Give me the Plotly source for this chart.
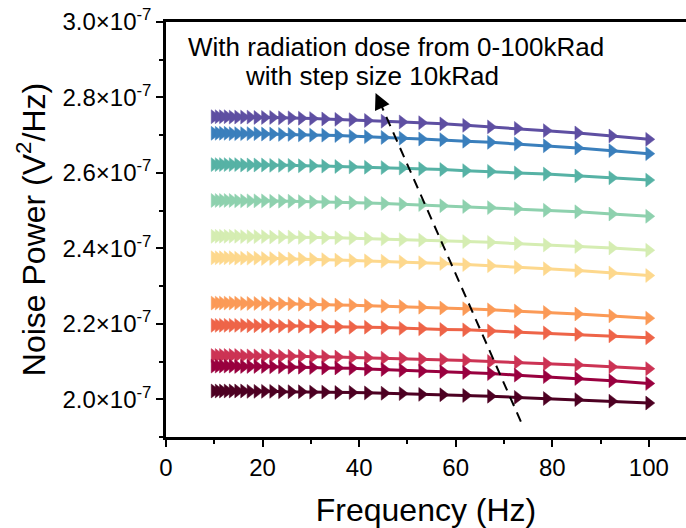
import plotly.graph_objects as go

# Frequency points (Hz)
freq = [10.00, 10.83, 11.72, 12.69, 13.74, 14.87, 16.10, 17.43, 18.87, 20.43,
        22.12, 23.95, 25.93, 28.07, 30.39, 32.90, 35.62, 38.57, 41.75, 45.20,
        48.94, 52.98, 57.36, 62.10, 67.23, 72.79, 78.80, 85.32, 92.37, 100.0]

# Noise power, in units of 1e-7 V^2/Hz (top curve first)
s1 = [2.749, 2.749, 2.749, 2.749, 2.748, 2.748, 2.748, 2.748, 2.747, 2.747,
      2.747, 2.746, 2.746, 2.745, 2.744, 2.743, 2.742, 2.741, 2.739, 2.737,
      2.735, 2.733, 2.730, 2.726, 2.722, 2.718, 2.712, 2.706, 2.698, 2.689]
s2 = [2.705, 2.705, 2.705, 2.705, 2.704, 2.704, 2.704, 2.704, 2.704, 2.703,
      2.703, 2.702, 2.702, 2.701, 2.700, 2.700, 2.699, 2.697, 2.696, 2.694,
      2.692, 2.690, 2.688, 2.684, 2.681, 2.677, 2.672, 2.666, 2.659, 2.651]
s3 = [2.622, 2.622, 2.622, 2.622, 2.622, 2.622, 2.621, 2.621, 2.621, 2.621,
      2.620, 2.620, 2.620, 2.619, 2.619, 2.618, 2.617, 2.616, 2.615, 2.614,
      2.613, 2.611, 2.609, 2.606, 2.604, 2.600, 2.597, 2.592, 2.587, 2.581]
s4 = [2.527, 2.527, 2.527, 2.527, 2.527, 2.526, 2.526, 2.526, 2.526, 2.526,
      2.525, 2.525, 2.525, 2.524, 2.523, 2.523, 2.522, 2.521, 2.520, 2.519,
      2.517, 2.516, 2.513, 2.511, 2.508, 2.505, 2.501, 2.497, 2.491, 2.485]
s5 = [2.432, 2.432, 2.432, 2.432, 2.432, 2.432, 2.431, 2.431, 2.431, 2.431,
      2.430, 2.430, 2.430, 2.429, 2.429, 2.428, 2.428, 2.427, 2.426, 2.425,
      2.423, 2.422, 2.420, 2.418, 2.416, 2.413, 2.409, 2.405, 2.401, 2.395]
s6 = [2.375, 2.375, 2.375, 2.375, 2.375, 2.374, 2.374, 2.374, 2.374, 2.373,
      2.373, 2.373, 2.372, 2.372, 2.371, 2.370, 2.369, 2.368, 2.367, 2.366,
      2.364, 2.362, 2.360, 2.357, 2.354, 2.350, 2.346, 2.341, 2.335, 2.328]
s7 = [2.255, 2.255, 2.255, 2.255, 2.255, 2.255, 2.254, 2.254, 2.254, 2.254,
      2.253, 2.253, 2.253, 2.252, 2.252, 2.251, 2.250, 2.249, 2.248, 2.247,
      2.246, 2.244, 2.242, 2.240, 2.237, 2.234, 2.230, 2.226, 2.221, 2.215]
s8 = [2.196, 2.196, 2.196, 2.196, 2.196, 2.196, 2.196, 2.195, 2.195, 2.195,
      2.195, 2.194, 2.194, 2.194, 2.193, 2.193, 2.192, 2.191, 2.191, 2.190,
      2.188, 2.187, 2.185, 2.184, 2.181, 2.179, 2.176, 2.172, 2.168, 2.163]
s9 = [2.116, 2.116, 2.116, 2.116, 2.116, 2.116, 2.115, 2.115, 2.115, 2.115,
      2.115, 2.114, 2.114, 2.114, 2.113, 2.113, 2.112, 2.111, 2.110, 2.109,
      2.108, 2.106, 2.105, 2.103, 2.100, 2.098, 2.094, 2.091, 2.086, 2.081]
s10 = [2.088, 2.088, 2.088, 2.088, 2.088, 2.087, 2.087, 2.087, 2.087, 2.087,
       2.086, 2.086, 2.085, 2.085, 2.084, 2.083, 2.083, 2.082, 2.080, 2.079,
       2.077, 2.075, 2.073, 2.071, 2.068, 2.064, 2.060, 2.055, 2.049, 2.042]
s11 = [2.022, 2.022, 2.022, 2.022, 2.022, 2.022, 2.022, 2.021, 2.021, 2.021,
       2.021, 2.020, 2.020, 2.020, 2.019, 2.019, 2.018, 2.018, 2.017, 2.016,
       2.015, 2.013, 2.012, 2.010, 2.008, 2.005, 2.002, 1.999, 1.995, 1.990]

series = [s1, s2, s3, s4, s5, s6, s7, s8, s9, s10, s11]
series_names = ["S1", "S2", "S3", "S4", "S5", "S6", "S7", "S8", "S9", "S10", "S11"]
colors = ["#5E4FA2", "#3A7FBC", "#56B2A5", "#8ED1AE", "#D5EDB2", "#FDD88D",
          "#FB9A57", "#EE6448", "#CC3354", "#99003F", "#4D0022"]

y_tickvals = [2.0, 2.2, 2.4, 2.6, 2.8, 3.0]
y_ticktext = ["2.0×10<sup>-7</sup>", "2.2×10<sup>-7</sup>", "2.4×10<sup>-7</sup>",
              "2.6×10<sup>-7</sup>", "2.8×10<sup>-7</sup>", "3.0×10<sup>-7</sup>"]
y_minor = [1.9, 2.1, 2.3, 2.5, 2.7, 2.9]

# Dashed arrow (tail -> head), x in Hz, y in 1e-7 units
arrow_x = [73.5, 44.2]
arrow_y = [1.941, 2.790]
arrow_tip = (43.4, 2.8115)

note1 = "With radiation dose from 0-100kRad"
note2 = "with step size 10kRad"

SC = 1e-7
FONT = "Liberation Sans, Arial, sans-serif"

fig = go.Figure()
for ys, nm, c in zip(series, series_names, colors):
    fig.add_trace(go.Scatter(
        x=freq, y=[v * SC for v in ys], name=nm, mode="lines+markers",
        line=dict(color=c, width=3),
        marker=dict(symbol="triangle-right", size=12, color=c,
                    line=dict(color=c, width=0.5)),
        showlegend=False))

fig.add_trace(go.Scatter(
    x=arrow_x, y=[v * SC for v in arrow_y], mode="lines",
    line=dict(color="black", width=2, dash="10px,7px"), showlegend=False))

fig.add_annotation(x=arrow_tip[0], y=arrow_tip[1] * SC, ax=6, ay=13,
                   showarrow=True, arrowhead=2, arrowsize=1.6, arrowwidth=2,
                   arrowcolor="black", standoff=0, text=" ")

fig.add_annotation(x=47.7, y=2.934 * SC, text=note1, showarrow=False,
                   xanchor="center", yanchor="middle",
                   font=dict(family=FONT, size=26, color="black"))
fig.add_annotation(x=42.6, y=2.857 * SC, text=note2, showarrow=False,
                   xanchor="center", yanchor="middle",
                   font=dict(family=FONT, size=26, color="black"))

fig.update_layout(
    width=686, height=528,
    margin=dict(l=166, r=0, t=22, b=91),
    paper_bgcolor="white", plot_bgcolor="white",
    font=dict(family=FONT, color="black"),
)
fig.update_xaxes(
    range=[0, 107.7], tickmode="linear", tick0=0, dtick=20,
    showgrid=False, zeroline=False,
    showline=True, linecolor="black", linewidth=2.5, mirror=True,
    ticks="outside", ticklen=7, tickwidth=2, tickcolor="black",
    tickfont=dict(family=FONT, size=24, color="black"),
    minor=dict(tickmode="linear", tick0=10, dtick=20, ticks="outside",
               ticklen=4, tickwidth=2, tickcolor="black"),
    title=dict(text="Frequency (Hz)", font=dict(family=FONT, size=32, color="black"),
               standoff=22),
)
fig.update_yaxes(
    range=[1.9 * SC, 3.0 * SC], tickmode="array",
    tickvals=[v * SC for v in y_tickvals], ticktext=y_ticktext,
    showgrid=False, zeroline=False,
    showline=True, linecolor="black", linewidth=2.5, mirror=False,
    ticks="outside", ticklen=7, tickwidth=2, tickcolor="black",
    tickfont=dict(family=FONT, size=24, color="black"),
    minor=dict(tickmode="array", tickvals=[v * SC for v in y_minor], ticks="outside",
               ticklen=4, tickwidth=2, tickcolor="black"),
    title=dict(text="Noise Power (V<sup>2</sup>/Hz)",
               font=dict(family=FONT, size=32, color="black"), standoff=8),
)

fig.write_html("out.html")
